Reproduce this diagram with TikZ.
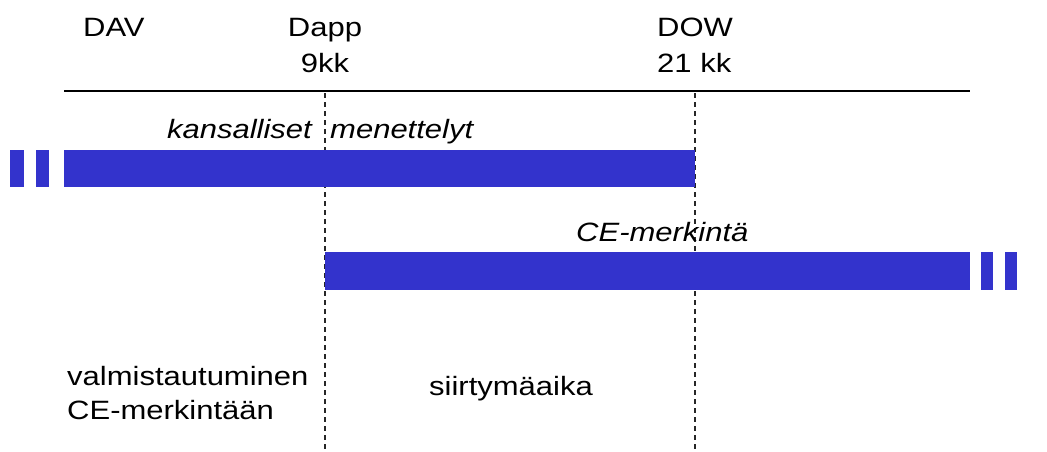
\documentclass[tikz,border=0pt]{standalone}
\usepackage{fontspec}
\setmainfont[FakeStretch=1.17]{Liberation Sans}
\definecolor{barblue}{RGB}{51,51,204}
\begin{document}
\begin{tikzpicture}[x=1pt,y=-1pt,
  lbl/.style={inner sep=0pt,font=\fontsize{26.5}{36}\selectfont},
  ilbl/.style={lbl,font=\fontsize{26.5}{36}\itshape\selectfont},
  bar/.style={fill=barblue,draw=none},
  guide/.style={draw=black!85,line width=1.3pt,dash pattern=on 5pt off 4pt},
  axis/.style={draw=black,line width=1.4pt}]
\useasboundingbox (0,0) rectangle (1047,452);
% axis
\coordinate (a0) at (64,91);
\coordinate (a1) at (970,91);
\draw[axis] (a0) -- (a1);
% guides
\coordinate (g1t) at (325,93);
\coordinate (g1b) at (325,452);
\coordinate (g2t) at (695,93);
\coordinate (g2b) at (695,452);
\draw[guide] (g1t) -- (g1b);
\draw[guide] (g2t) -- (g2b);
% bars
\fill[bar] (10,150) rectangle (24,187);
\fill[bar] (36,150) rectangle (49,187);
\fill[bar] (64,150) rectangle (695,187);
\fill[bar] (325,252) rectangle (970,290);
\fill[bar] (981,252) rectangle (993,290);
\fill[bar] (1005,252) rectangle (1017,290);
% labels
\node[lbl,anchor=base west] (dav) at (83,37) {DAV};
\node[lbl,anchor=base,align=center] (dapp) at (325,73) {Dapp\\9kk};
\node[lbl,anchor=base west,align=left] (dow) at (657,73) {DOW\\21 kk};
\node[ilbl,anchor=base east] (kans) at (312,138) {kansalliset};
\node[ilbl,anchor=base west] (men) at (330,138) {menettelyt};
\node[ilbl,anchor=base west] (ce) at (576,241) {CE-merkintä};
\node[lbl,anchor=base west,align=left,font=\fontsize{26.5}{34}\selectfont] (valm) at (67,419) {valmistautuminen\\CE-merkintään};
\node[lbl,anchor=base west] (siir) at (429,395) {siirtymäaika};
\end{tikzpicture}
\end{document}
